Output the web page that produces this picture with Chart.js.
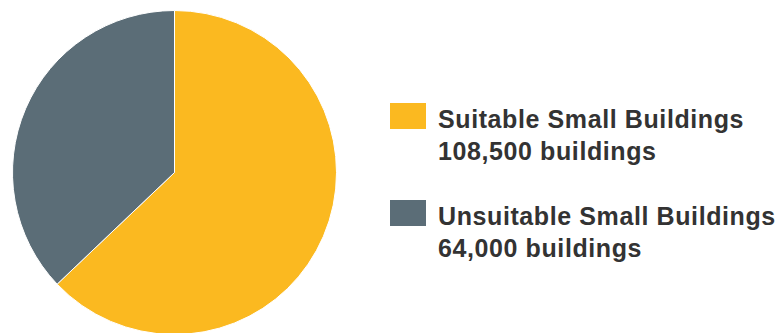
<!DOCTYPE html>
<html>
<head>
<meta charset="utf-8">
<script src="https://cdn.jsdelivr.net/npm/chart.js@4/dist/chart.umd.min.js"></script>
<style>
html, body { margin: 0; padding: 0; background: #fff; overflow: hidden; }
body { width: 777px; height: 333px; position: relative; }
#pieBox { position: absolute; left: 12px; top: 10px; width: 325px; height: 325px; }
#legend { position: absolute; left: 390px; top: 104px; font-family: "Liberation Sans", Arial, sans-serif; font-weight: bold; color: #333; font-size: 25px; letter-spacing: 0.6px; }
.item { position: relative; padding-left: 48px; height: 98px; }
.box { position: absolute; left: 0; top: 0; width: 36px; height: 26px; }
.line1 { line-height: 32px; margin-top: -1px; white-space: nowrap; }
.line2 { line-height: 32px; white-space: nowrap; }
</style>
</head>
<body>
<div id="pieBox"><canvas id="mycanvas"></canvas></div>
<div id="legend"></div>
<script>
var categories = ['Suitable Small Buildings', 'Unsuitable Small Buildings'];
var wartosci = [108500, 64000];
var valueLabels = ['108,500 buildings', '64,000 buildings'];
var kolory = ['#FBB920', '#5B6D77'];

// legenda w HTML
var legend = document.getElementById('legend');
for (var i = 0; i < categories.length; i++) {
	var item = document.createElement('div');
	item.className = 'item';
	item.innerHTML = '<div class="box" style="background:' + kolory[i] + '"></div>' +
		'<div class="line1">' + categories[i] + '</div>' +
		'<div class="line2">' + valueLabels[i] + '</div>';
	legend.appendChild(item);
}

var chartdata = {
	labels: categories,
	datasets: [
		{
			data: wartosci,
			backgroundColor: kolory,
			borderColor: '#ffffff',
			borderWidth: 1
		}
	]
};

var ctx = document.getElementById('mycanvas');
var pieGraph = new Chart(ctx, {
	type: 'pie',
	data: chartdata,
	options: {
		responsive: true,
		maintainAspectRatio: false,
		animation: false,
		layout: { padding: 0 },
		plugins: {
			legend: { display: false },
			tooltip: { enabled: false }
		}
	}
});
</script>
</body>
</html>
